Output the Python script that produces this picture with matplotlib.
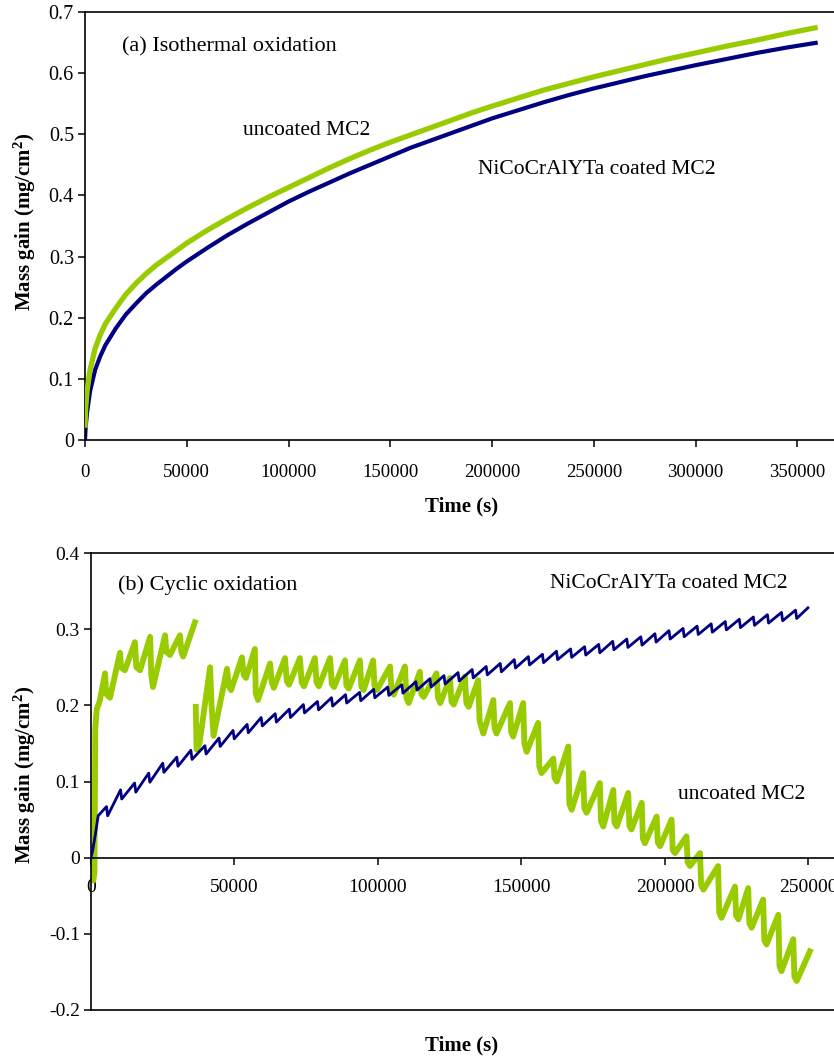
import numpy as np
import matplotlib
matplotlib.use("Agg")
import matplotlib.pyplot as plt
from matplotlib.ticker import FuncFormatter, MultipleLocator

plt.rcParams['font.family'] = ['Liberation Serif', 'DejaVu Serif']
plt.rcParams['mathtext.fontset'] = 'custom'
plt.rcParams['mathtext.rm'] = 'Liberation Serif'
plt.rcParams['mathtext.bf'] = 'Liberation Serif:bold'
plt.rcParams['mathtext.it'] = 'Liberation Serif:italic'
plt.rcParams['axes.unicode_minus'] = False

# ---------------- (a) Isothermal oxidation ----------------
iso_time = [0, 300, 1000, 2500, 5000, 7500, 10000, 15000, 20000, 25000, 30000,
            35000, 40000, 45000, 50000, 60000, 70000, 80000, 90000, 100000,
            110000, 120000, 130000, 140000, 150000, 160000, 170000, 180000,
            190000, 200000, 212500, 225000, 237500, 250000, 262500, 275000,
            287500, 300000, 315000, 330000, 345000, 360000]
iso_uncoated = [0.02, 0.05, 0.08, 0.115, 0.15, 0.172, 0.19, 0.215, 0.238, 0.256,
                0.272, 0.286, 0.298, 0.310, 0.322, 0.343, 0.362, 0.380, 0.397,
                0.413, 0.429, 0.445, 0.460, 0.474, 0.487, 0.499, 0.511, 0.523,
                0.535, 0.546, 0.559, 0.572, 0.583, 0.594, 0.604, 0.614, 0.624,
                0.633, 0.644, 0.654, 0.665, 0.675]
iso_coated = [0.0, 0.02, 0.045, 0.08, 0.115, 0.137, 0.155, 0.182, 0.205, 0.223,
              0.240, 0.254, 0.267, 0.280, 0.292, 0.314, 0.335, 0.354, 0.372,
              0.390, 0.406, 0.421, 0.436, 0.450, 0.464, 0.478, 0.490, 0.502,
              0.514, 0.526, 0.539, 0.552, 0.564, 0.575, 0.585, 0.595, 0.604,
              0.613, 0.623, 0.633, 0.642, 0.650]

# ---------------- (b) Cyclic oxidation ----------------
# coated: start, then per-cycle peaks (just before cooling) and troughs (after cooling)
cyc_coated_start_t = [0, 600, 1500, 2500]
cyc_coated_start_v = [0.0, 0.01, 0.03, 0.055]
cyc_coated_peak_t = [5400, 10300, 15200, 20100, 25000, 29900, 34800, 39700, 44600,
                     49500, 54400, 59300, 64200, 69100, 74000, 78900, 83800, 88700,
                     93600, 98500, 103400, 108300, 113200, 118100, 123000, 127900,
                     132800, 137700, 142600, 147500, 152400, 157300, 162200, 167100,
                     172000, 176900, 181800, 186700, 191600, 196500, 201400, 206300,
                     211200, 216100, 221000, 225900, 230800, 235700, 240600, 245500,
                     249800]
cyc_coated_peak_v = [0.067, 0.089, 0.098, 0.111, 0.124, 0.132, 0.141, 0.147, 0.157,
                     0.167, 0.175, 0.184, 0.189, 0.195, 0.201, 0.205, 0.210, 0.214,
                     0.217, 0.221, 0.224, 0.227, 0.231, 0.235, 0.239, 0.243, 0.247,
                     0.251, 0.255, 0.260, 0.264, 0.267, 0.271, 0.274, 0.277, 0.280,
                     0.284, 0.287, 0.290, 0.294, 0.298, 0.301, 0.304, 0.307, 0.310,
                     0.313, 0.316, 0.319, 0.322, 0.325, 0.328]
cyc_coated_trough_v = [0.055, 0.077, 0.086, 0.099, 0.112, 0.120, 0.129, 0.136, 0.146,
                       0.156, 0.164, 0.173, 0.178, 0.184, 0.190, 0.194, 0.199, 0.203,
                       0.206, 0.210, 0.213, 0.216, 0.220, 0.224, 0.228, 0.232, 0.236,
                       0.240, 0.244, 0.249, 0.253, 0.256, 0.260, 0.263, 0.266, 0.269,
                       0.273, 0.276, 0.279, 0.283, 0.287, 0.290, 0.293, 0.296, 0.299,
                       0.302, 0.305, 0.308, 0.311, 0.314]

nan = np.nan
cyc_uncoated_t = [0, 300, 800, 1200, 1500, 2000, 3000, 4900, 5300, 6600, 10100, 10500,
                  11800, 15300, 15800, 17100, 20600, 21000, 21600, 25800, 26300, 27500,
                  31000, 31500, 32100, 36200,
                  36300,
                  36500, 36800, 37800, 41500, 42000, 42700, 47400, 48000, 48800, 52600,
                  53200, 54000, 57100, 57400, 58200, 62400, 63000, 63700, 67600, 68200,
                  69000, 72800, 73400, 74200, 78000, 78600, 79400, 83300, 83900, 84700,
                  88500, 89000, 89800, 93700, 94200, 95000, 98300, 98800, 99600,
                  104200, 104700, 105500, 109400, 109900, 110700, 114600, 115100,
                  115900, 120400, 120900, 121700, 125100, 125600, 126400, 130300,
                  130800, 131600, 134900, 135400, 136700, 140200, 140600, 141300,
                  146000, 146400, 147100, 150600, 151000, 151800, 155800, 156200,
                  157000, 161100, 161500, 162300, 166300, 166700, 167500, 171500,
                  171900, 172700, 177300, 177700, 178500, 182000, 182400, 183200,
                  187200, 187600, 188300, 191900, 192300, 193000, 197100, 197500,
                  198300, 202300, 202700, 203500, 207500, 207900, 208700, 212200,
                  212600, 213400, 218500, 218900, 219700, 224400, 224800, 225600,
                  229000, 229400, 230200, 234200, 234600, 235400, 239500, 239900,
                  240600, 244700, 245100, 245900, 250500]
cyc_uncoated_v = [0.0, -0.02, -0.03, -0.02, 0.17, 0.195, 0.205, 0.242, 0.215, 0.210,
                  0.269, 0.25, 0.246, 0.283, 0.25, 0.246, 0.290, 0.24, 0.224, 0.292,
                  0.27, 0.266, 0.292, 0.27, 0.264, 0.309,
                  nan,
                  0.198, 0.142, 0.150, 0.250, 0.20, 0.160, 0.248, 0.225, 0.220, 0.263,
                  0.240, 0.236, 0.274, 0.216, 0.207, 0.255, 0.23, 0.223, 0.262, 0.232,
                  0.227, 0.262, 0.23, 0.225, 0.262, 0.23, 0.225, 0.262, 0.228, 0.224,
                  0.259, 0.226, 0.222, 0.259, 0.225, 0.220, 0.259, 0.225, 0.220,
                  0.251, 0.22, 0.214, 0.251, 0.21, 0.203, 0.244, 0.215, 0.211,
                  0.242, 0.21, 0.203, 0.236, 0.205, 0.201, 0.238, 0.203, 0.198,
                  0.233, 0.18, 0.163, 0.207, 0.17, 0.163, 0.203, 0.165, 0.159,
                  0.203, 0.15, 0.139, 0.177, 0.12, 0.111, 0.130, 0.105, 0.100,
                  0.146, 0.07, 0.063, 0.111, 0.065, 0.059, 0.098, 0.048, 0.041,
                  0.089, 0.046, 0.041, 0.085, 0.042, 0.037, 0.072, 0.025, 0.019,
                  0.054, 0.020, 0.015, 0.050, 0.010, 0.006, 0.028, -0.006, -0.011,
                  0.006, -0.036, -0.042, -0.011, -0.072, -0.079, -0.038, -0.076,
                  -0.081, -0.040, -0.086, -0.092, -0.055, -0.108, -0.114, -0.075,
                  -0.142, -0.149, -0.107, -0.156, -0.162, -0.123]

GREEN = '#99CC00'
BLUE = '#000080'

W, H = 834, 1059
fig = plt.figure(figsize=(W / 100, H / 100), dpi=100)

def fx(px):
    return px / W

def fy(py):
    return 1 - py / H

fmt_g = FuncFormatter(lambda v, p: '%g' % round(v, 3))
fmt_d = FuncFormatter(lambda v, p: '%d' % v)

# ---- top axes
ax1 = fig.add_axes([fx(85), fy(440), 1 - fx(85), fy(12) - fy(440)])
ax1.plot(iso_time, iso_uncoated, color=GREEN, lw=3.8, solid_capstyle='butt',
         solid_joinstyle='round', zorder=3)
ax1.plot(iso_time, iso_coated, color=BLUE, lw=3.0, solid_capstyle='butt',
         solid_joinstyle='round', zorder=2)
ax1.set_xlim(0, 368000)
ax1.set_ylim(0, 0.7)
ax1.xaxis.set_major_locator(MultipleLocator(50000))
ax1.yaxis.set_major_locator(MultipleLocator(0.1))
ax1.xaxis.set_major_formatter(fmt_d)
ax1.yaxis.set_major_formatter(fmt_g)
ax1.spines['right'].set_visible(False)
for s in ax1.spines.values():
    s.set_linewidth(1.2)
ax1.tick_params(axis='both', direction='out', length=5, width=1.1)
ax1.tick_params(axis='y', labelsize=14.5, pad=3)
ax1.tick_params(axis='x', labelsize=13.5, pad=12)
ax1.text(18200, 0.643, '(a) Isothermal oxidation', fontsize=16, ha='left', va='center')
ax1.text(77600, 0.507, 'uncoated MC2', fontsize=15.5, ha='left', va='center')
ax1.text(193000, 0.442, 'NiCoCrAlYTa coated MC2', fontsize=15.5, ha='left', va='center')

# ---- bottom axes
ax2 = fig.add_axes([fx(91), fy(1010), 1 - fx(91), fy(553) - fy(1010)])
ax2.plot(cyc_uncoated_t, cyc_uncoated_v, color=GREEN, lw=4.2,
         solid_joinstyle='round', zorder=2)

bt = list(cyc_coated_start_t)
bv = list(cyc_coated_start_v)
for i, (tp, vp) in enumerate(zip(cyc_coated_peak_t, cyc_coated_peak_v)):
    bt.append(tp)
    bv.append(vp)
    if i < len(cyc_coated_trough_v):
        bt.append(tp + 400)
        bv.append(cyc_coated_trough_v[i])
ax2.plot(bt, bv, color=BLUE, lw=2.0, zorder=3)

ax2.set_xlim(0, 258900)
ax2.set_ylim(-0.2, 0.4)
ax2.xaxis.set_major_locator(MultipleLocator(50000))
ax2.yaxis.set_major_locator(MultipleLocator(0.1))
ax2.xaxis.set_major_formatter(fmt_d)
ax2.yaxis.set_major_formatter(fmt_g)
ax2.spines['right'].set_visible(False)
ax2.spines['bottom'].set_position(('data', 0))
for s in ax2.spines.values():
    s.set_linewidth(1.2)
ax2.axhline(-0.2, color='black', lw=1.2, clip_on=False, zorder=5)
ax2.tick_params(axis='both', direction='out', length=5, width=1.1, labelsize=14)
ax2.tick_params(axis='y', pad=3)
ax2.tick_params(axis='x', pad=10)
ax2.text(9400, 0.358, '(b) Cyclic oxidation', fontsize=16, ha='left', va='center')
ax2.text(159900, 0.360, 'NiCoCrAlYTa coated MC2', fontsize=15.5, ha='left', va='center')
ax2.text(204500, 0.083, 'uncoated MC2', fontsize=15.5, ha='left', va='center')

# ---- axis titles
ylab = r'Mass gain (mg/cm$^{\mathbf{2}}$)'
fig.text(fx(25), fy(222), ylab, rotation=90, fontsize=15, fontweight='bold',
         ha='center', va='center')
fig.text(fx(25), fy(775), ylab, rotation=90, fontsize=15, fontweight='bold',
         ha='center', va='center')
fig.text(fx(462), fy(506), 'Time (s)', fontsize=15, fontweight='bold',
         ha='center', va='center')
fig.text(fx(462), fy(1045), 'Time (s)', fontsize=15, fontweight='bold',
         ha='center', va='center')

fig.savefig('out.png', dpi=100)
